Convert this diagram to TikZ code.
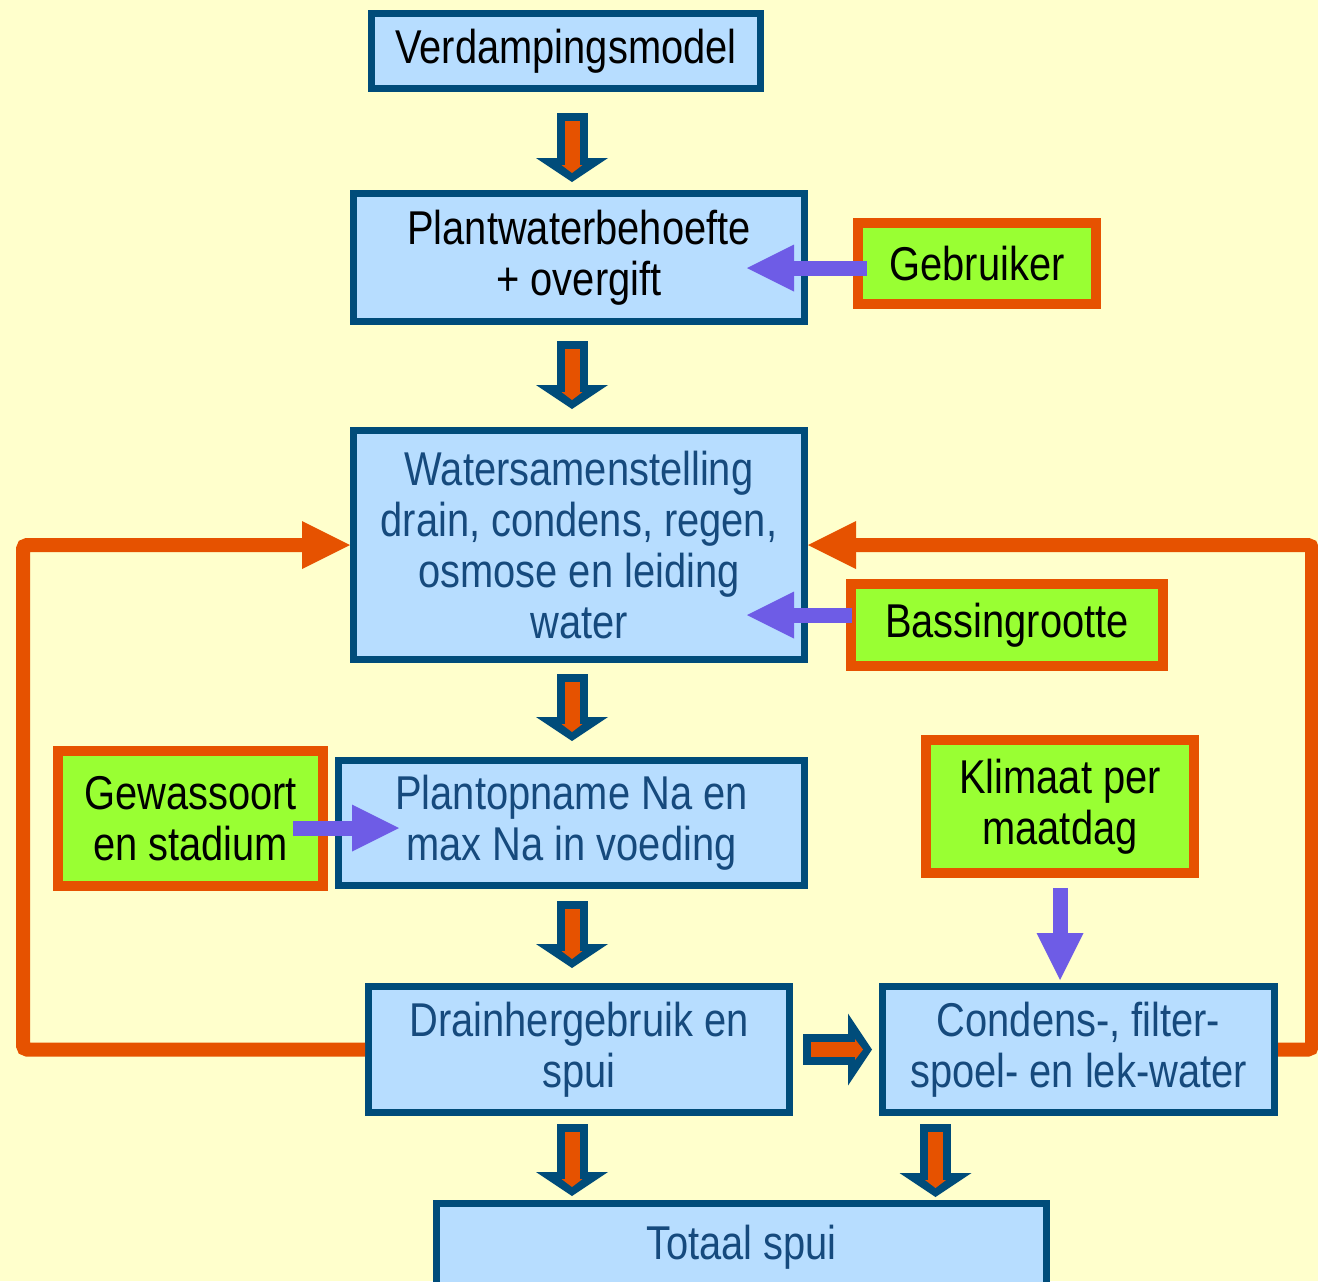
\documentclass[tikz,border=0pt]{standalone}
\usepackage{fontspec}
\setmainfont{Liberation Sans}[FakeStretch=0.84]
\usetikzlibrary{arrows.meta}

\definecolor{bgyellow}{RGB}{255,255,204}
\definecolor{boxfill}{RGB}{183,221,255}
\definecolor{boxline}{RGB}{0,76,122}
\definecolor{boxtext}{RGB}{22,74,125}
\definecolor{flowred}{RGB}{230,82,0}
\definecolor{inputgreen}{RGB}{153,255,51}
\definecolor{inputarrow}{RGB}{110,92,230}

\begin{document}
\begin{tikzpicture}[font=\fontsize{27}{29}\selectfont, node distance=4cm]
    \tikzstyle{box}=[draw=boxline, fill=boxfill, line width=0.14cm, text=boxtext,
                     align=center, inner sep=0pt]
    \tikzstyle{input}=[draw=flowred, fill=inputgreen, line width=0.2cm, text=black,
                       align=center, inner sep=0pt]
    \tikzstyle{inputarrow}=[draw=inputarrow, line width=0.3cm,
                            -{Triangle[width=0.94cm, length=0.94cm, line width=0pt]}]
    \tikzstyle{feedback}=[draw=flowred, line width=0.28cm, rounded corners=0.08cm,
                          -{Triangle[width=0.96cm, length=0.96cm, line width=0pt]}]
    \tikzset{fatarrow/.style 2 args={draw=flowred, line width=0.3cm,
        -{Triangle[width=0.42cm, length=0.16cm, line width=0pt]},
        shorten <=#1+0.16cm, shorten >=#2+0.18cm,
        preaction={draw=boxline, line width=0.62cm,
            -{Triangle[width=1.44cm, length=0.48cm, line width=0pt]},
            shorten <=#1, shorten >=#2}}}

    \fill[bgyellow] (0,0) rectangle (26.36,-25.62);
    \useasboundingbox (0,0) rectangle (26.36,-25.62);

    \node[box, text=black, minimum width=7.78cm, minimum height=1.5cm]
        (verd) at (11.32,-1.02) {Verdampingsmodel};
    \node[box, text=black, minimum width=9.02cm, minimum height=2.56cm]
        (plant) [node distance=4.13cm, below of=verd, xshift=0.26cm] {Plantwaterbehoefte\\+ overgift};
    \node[box, minimum width=9.02cm, minimum height=4.58cm]
        (wat) [node distance=5.75cm, below of=plant]
        {Watersamenstelling\\drain, condens, regen,\\osmose en leiding\\water};
    \node[box, minimum width=9.32cm, minimum height=2.5cm]
        (opname) [node distance=5.56cm, below of=wat, xshift=-0.15cm] {Plantopname Na en\\max Na in voeding};
    \node[box, minimum width=8.42cm, minimum height=2.52cm]
        (drain) [node distance=4.53cm, below of=opname, xshift=0.15cm] {Drainhergebruik en\\spui};
    \node[box, minimum width=7.84cm, minimum height=2.52cm]
        (cond) [node distance=9.99cm, right of=drain] {Condens-, filter-\\spoel- en lek-water};
    \node[box, minimum width=12.2cm, minimum height=1.74cm]
        (totaal) [node distance=3.95cm, below of=drain, xshift=3.25cm] {Totaal spui};

    \node[input, minimum width=4.76cm, minimum height=1.62cm]
        (gebr) [node distance=7.96cm, right of=plant, yshift=-0.12cm] {Gebruiker};
    \node[input, minimum width=6.24cm, minimum height=1.64cm]
        (bass) [node distance=8.56cm, right of=wat, yshift=-1.6cm] {Bassingrootte};
    \node[input, minimum width=5.3cm, minimum height=2.7cm]
        (gew) [node distance=7.62cm, left of=opname, yshift=0.09cm] {Gewassoort\\en stadium};
    \node[input, minimum width=5.36cm, minimum height=2.66cm]
        (klim) [node distance=4.86cm, above of=cond, xshift=-0.37cm] {Klimaat per\\maatdag};

    \coordinate (midx)   at (11.44,0);
    \coordinate (rightx) at (18.71,0);
    \coordinate (lcol)   at (0.46,0);
    \coordinate (rcol)   at (26.24,0);
    \coordinate (gebrtail) at ([yshift=-0.09cm]gebr.west);
    \coordinate (basstail) at ([yshift=0.2cm]bass.west);
    \coordinate (gewtail)  at ([yshift=-0.19cm]gew.east);

    % main flow
    \draw[fatarrow={0.42cm}{0.16cm}] (verd.south -| midx)   -- (plant.north -| midx);
    \draw[fatarrow={0.32cm}{0.36cm}] (plant.south -| midx)  -- (wat.north -| midx);
    \draw[fatarrow={0.22cm}{0.32cm}] (wat.south -| midx)    -- (opname.north -| midx);
    \draw[fatarrow={0.24cm}{0.30cm}] (opname.south -| midx) -- (drain.north -| midx);
    \draw[fatarrow={0.16cm}{0.08cm}] (drain.south -| midx)  -- (totaal.north -| midx);
    \draw[fatarrow={0.16cm}{0.06cm}] (cond.south -| rightx) -- (totaal.north -| rightx);
    \draw[fatarrow={0.2cm}{0.14cm}]  (drain.east) -- (cond.west);

    % terugvoer
    \draw[feedback] (drain.west) -- (drain.west -| lcol) -- (lcol |- wat.west) -- (wat.west);
    \draw[feedback] (cond.east) -- (cond.east -| rcol) -- (rcol |- wat.east) -- (wat.east);

    % invoer
    \draw[inputarrow, shorten <=-0.28cm, shorten >=-1.22cm] (gebrtail) -- (gebrtail -| plant.east);
    \draw[inputarrow, shorten <=-0.12cm, shorten >=-1.22cm] (basstail) -- (basstail -| wat.east);
    \draw[inputarrow, shorten <=-0.7cm, shorten >=-1.28cm]  (gewtail) -- (gewtail -| opname.west);
    \draw[inputarrow, shorten <=0.2cm, shorten >=0.06cm]    (klim.south) -- (klim.south |- cond.north);
\end{tikzpicture}
\end{document}
